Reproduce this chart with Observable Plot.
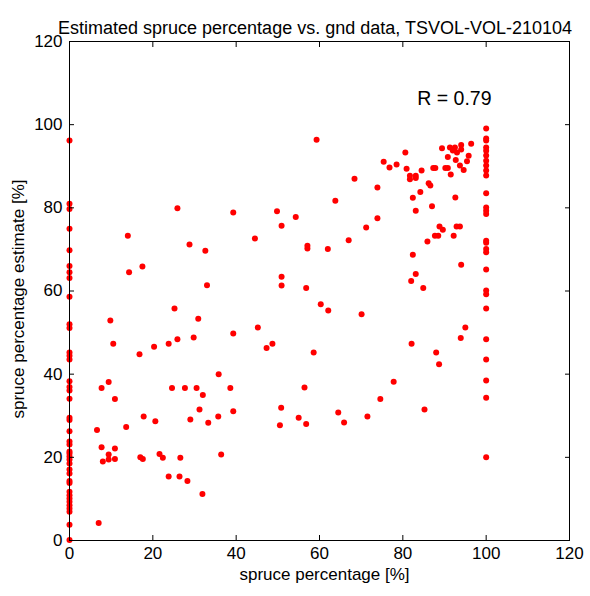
<!DOCTYPE html>
<html><head><meta charset="utf-8">
<script src="https://cdn.jsdelivr.net/npm/d3@7"></script>
<script src="https://cdn.jsdelivr.net/npm/@observablehq/plot@0.6"></script>
<style>body{margin:0;background:#fff}</style>
</head><body><div id="chart"></div><script>
const titleText = "Estimated spruce percentage vs. gnd data, TSVOL-VOL-210104";
const xLabel = "spruce percentage [%]";
const yLabel = "spruce percentage estimate [%]";
const annotation = "R = 0.79";
const xTicks = [0, 20, 40, 60, 80, 100, 120];
const yTicks = [0, 20, 40, 60, 80, 100, 120];

// ground-truth spruce percentage = 0 column
const zeroEstimates = [96.2, 81.0, 79.7, 75.0, 69.8, 66.0, 64.5, 63.1, 58.6, 52.0, 51.1, 45.2, 44.4, 43.5,
  38.3, 36.9, 36.1, 34.1, 29.5, 29.0, 26.3, 23.8, 23.1, 21.4, 20.9, 20.2, 19.5, 18.5, 17.1, 16.1,
  14.3, 13.8, 11.7, 10.9, 10.1, 9.3, 8.5, 7.7, 6.9, 3.8, 0.1];
// ground-truth spruce percentage = 100 column
const fullEstimates = [99.1, 96.7, 96.2, 94.5, 93.7, 92.6, 91.3, 90.2, 89.0, 87.8, 83.5, 80.1, 79.3, 78.5,
  72.1, 71.6, 70.1, 69.3, 65.2, 60.1, 59.2, 55.8, 48.4, 43.5, 38.5, 34.3, 20.0];
// mixed stands: ground percentage and estimate
const mixedGround = [7.7, 9.4, 10.9, 6.6, 13.6, 7.7, 8.0, 9.4, 9.4, 10.9, 10.9, 17.8, 20.6, 17.0, 17.6, 21.6, 22.4, 23.8, 24.6, 27.7,
  26.6, 26.4, 28.3, 29.0, 30.5, 31.2, 32.0, 31.9, 33.3, 35.7, 36.4, 38.6, 39.3, 7.0,
  25.9, 39.3, 49.8, 50.9, 14.0, 28.8, 32.6, 44.5, 14.3, 17.5, 33.0, 50.9, 50.9, 25.2, 9.8, 30.9, 45.2, 10.5, 20.3, 23.8,
  25.9, 29.8, 39.3, 16.8, 47.3, 48.7, 35.8,
  59.3, 80.6, 75.4, 76.8, 78.5, 80.9, 84.5, 81.7, 81.7, 83.1, 83.1, 86.2, 68.4, 73.9, 84.2, 82.4, 83.1, 63.8, 54.3, 73.9,
  71.2, 67.0, 57.1, 57.1, 62.0, 85.9, 82.4, 56.8, 83.1, 82.0, 84.9, 60.3, 62.1, 70.1,
  96.4, 94.0, 94.0, 91.3, 92.5, 93.0, 92.0, 89.4, 90.8, 95.8, 95.4, 92.7, 93.7, 94.6, 87.3, 87.8, 90.2, 90.8, 91.5, 86.6,
  92.6, 87.0, 88.8, 89.6, 92.9, 93.7, 87.7, 88.5, 92.2,
  58.6, 56.4, 50.8, 50.5, 55.0, 56.8, 64.5, 65.9, 71.5, 74.6, 77.8, 82.1, 88.0, 88.7, 85.2, 93.9, 95.0, 94.0];
const mixedEstimate = [36.7, 38.1, 34.0, 26.6, 27.3, 22.4, 19.0, 20.7, 19.5, 22.1, 19.6, 29.8, 28.7, 20.0, 19.6, 20.8, 19.9, 15.4, 36.7, 36.7,
  19.9, 15.4, 14.3, 29.1, 36.7, 31.5, 35.0, 11.2, 28.3, 29.8, 20.7, 36.7, 31.1, 4.2,
  79.9, 78.9, 79.2, 75.7, 73.3, 71.2, 69.7, 72.6, 64.5, 65.9, 61.4, 63.4, 61.3, 55.8, 52.9, 53.3, 51.2, 47.3, 46.6, 47.3,
  48.4, 48.8, 49.8, 44.8, 46.3, 47.3, 40.0,
  96.4, 93.3, 91.1, 89.7, 90.4, 89.4, 89.0, 87.7, 86.9, 87.7, 87.2, 85.9, 87.0, 84.9, 83.8, 82.4, 79.3, 81.7, 77.8, 77.5,
  75.3, 72.2, 70.9, 70.2, 70.1, 71.9, 68.7, 60.7, 64.1, 62.4, 60.7, 56.8, 55.3, 54.4,
  95.4, 95.1, 94.0, 94.5, 94.5, 93.3, 93.8, 94.3, 92.2, 92.5, 91.2, 91.5, 90.2, 89.1, 89.6, 89.6, 89.6, 89.6, 88.0, 85.4,
  82.5, 80.4, 75.5, 74.7, 75.5, 75.5, 73.3, 73.3, 73.3,
  45.2, 36.8, 31.9, 27.7, 29.5, 28.0, 30.8, 28.4, 29.8, 34.0, 38.2, 47.3, 45.2, 42.4, 31.5, 48.7, 51.2, 66.3];

const points = [
  ...zeroEstimates.map(e => ({g: 0, e})),
  ...fullEstimates.map(e => ({g: 100, e})),
  ...mixedGround.map((g, i) => ({g, e: mixedEstimate[i]}))
];

const font = "'Liberation Sans', Arial, Helvetica, sans-serif";
const chart = Plot.plot({
  width: 590, height: 596,
  marginLeft: 69, marginRight: 21, marginTop: 41, marginBottom: 56,
  style: {fontFamily: font, fontSize: "17px", color: "#000", background: "#fff", overflow: "visible"},
  x: {domain: [0, 120], ticks: xTicks},
  y: {domain: [0, 120], ticks: yTicks},
  marks: [
    Plot.dot(points, {x: "g", y: "e", r: 3, fill: "#ff0000", stroke: "none"}),
    Plot.frame({stroke: "#000", strokeWidth: 1}),
    Plot.axisX(xTicks, {anchor: "bottom", tickSize: -5, tickPadding: 11, label: null, fontSize: 17, stroke: "#000"}),
    Plot.axisX(xTicks, {anchor: "top", tickSize: -5, tickFormat: () => "", label: null}),
    Plot.axisY(yTicks, {anchor: "left", tickSize: -5, tickPadding: 12, label: null, fontSize: 17}),
    Plot.axisY(yTicks, {anchor: "right", tickSize: -5, tickFormat: () => "", label: null}),
    Plot.text([titleText], {frameAnchor: "top", dy: -20.5, dx: -4.5, fontSize: 18, fill: "#000"}),
    Plot.text([xLabel], {frameAnchor: "bottom", dy: 39, dx: 5, fontSize: 17, fill: "#000"}),
    Plot.text([yLabel], {frameAnchor: "left", dx: -51, dy: 8, rotate: -90, textAnchor: "middle", fontSize: 17, fill: "#000"}),
    Plot.text([annotation], {frameAnchor: "top-right", dx: -78, dy: 49.5, textAnchor: "end", fontSize: 19.5, fill: "#000"})
  ]
});
document.getElementById("chart").appendChild(chart);
</script></body></html>
